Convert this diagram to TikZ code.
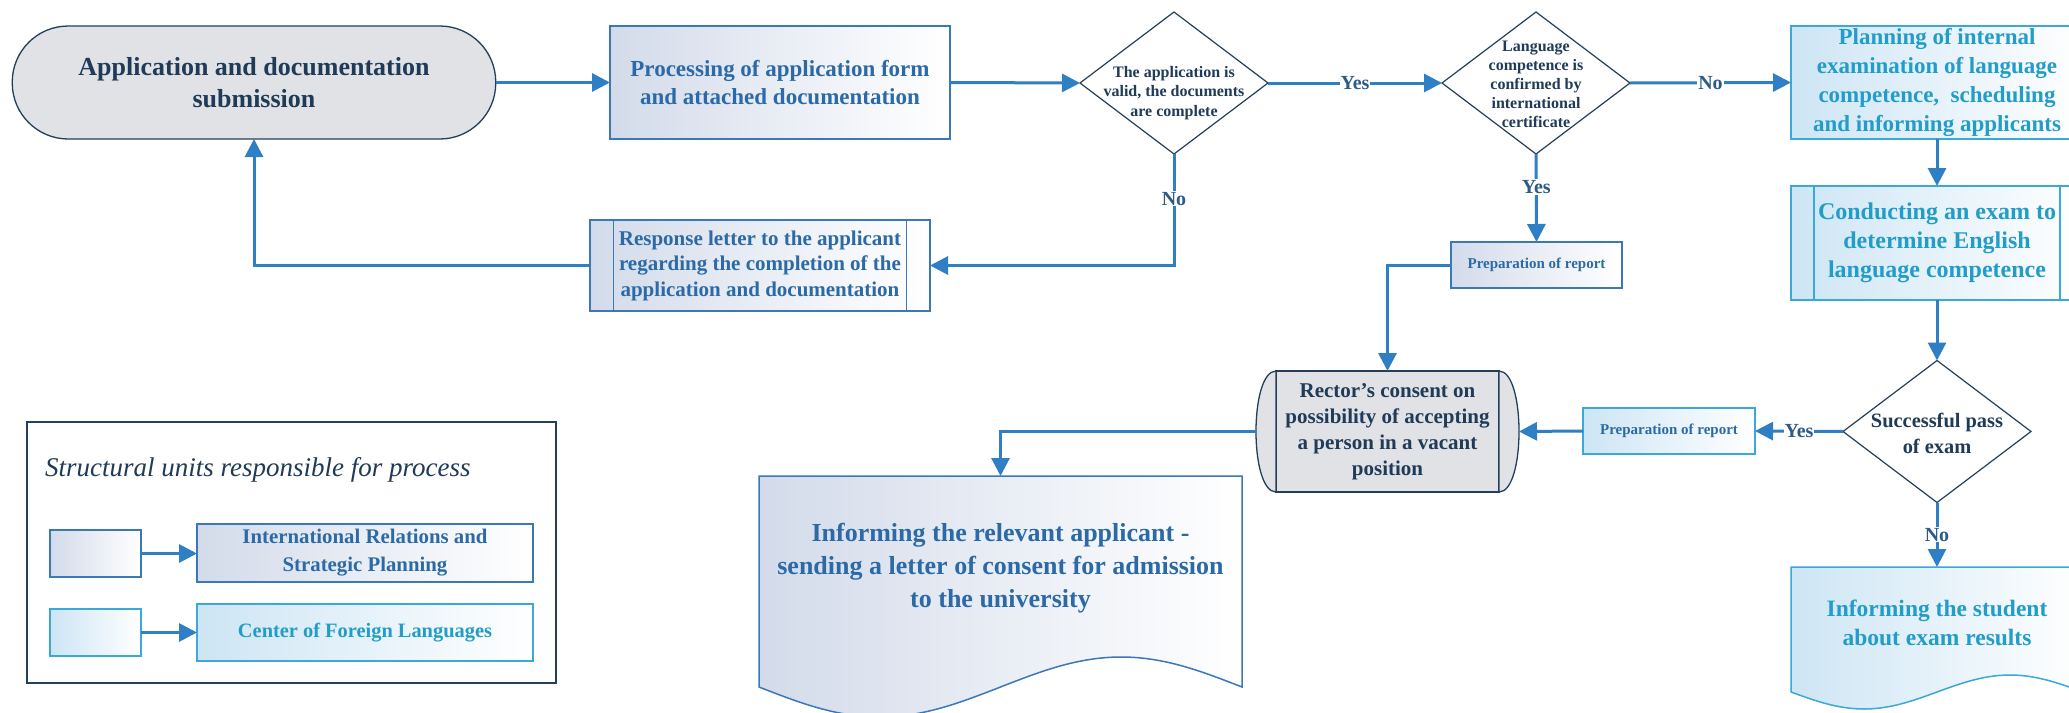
\documentclass[tikz,border=0pt]{standalone}
\usepackage{fontspec}
\setmainfont{Liberation Serif}
\usetikzlibrary{arrows.meta,shapes.geometric,calc}
\definecolor{navy}{HTML}{1F3B57}
\definecolor{navyline}{HTML}{243F5C}
\definecolor{connc}{HTML}{2E7FC4}
\definecolor{irline}{HTML}{3A78B8}
\definecolor{irtext}{HTML}{2B6AA6}
\definecolor{irfill}{HTML}{D3DBEA}
\definecolor{cfline}{HTML}{3AA8D8}
\definecolor{cftext}{HTML}{229DC9}
\definecolor{cffill}{HTML}{CDE5F4}
\definecolor{grayfill}{HTML}{E0E2E6}
\definecolor{lblc}{HTML}{2C5B88}
\tikzset{
  base/.style={outer sep=0pt, inner sep=0pt, align=center},
  irbox/.style={base, draw=irline, line width=1.5pt, left color=irfill, right color=white, text=irtext},
  cfbox/.style={base, draw=cfline, line width=1.5pt, left color=cffill, right color=white, text=cftext},
  graybox/.style={base, draw=navyline, line width=1.3pt, fill=grayfill, text=navy},
  dia/.style={shape=diamond, draw=navyline, line width=1.2pt, fill=white, inner sep=0pt, outer sep=0pt, minimum width=188pt, minimum height=142pt},
  txt/.style={base},
  irdoc/.style={draw=irline, line width=1.5pt, left color=irfill, right color=white},
  cfdoc/.style={draw=cfline, line width=1.5pt, left color=cffill, right color=white},
  conn/.style={draw=connc, line width=3pt, -{Triangle[length=18pt,width=18pt]}},
  lab/.style={fill=white, inner sep=1pt, text=lblc, font=\bfseries\fontsize{20}{22}\selectfont},
}
\begin{document}
\begin{tikzpicture}[x=1pt,y=-1pt]
\useasboundingbox (0,0) rectangle (2069,712);
\clip (0,0) rectangle (2069,712);
\fill[white] (0,0) rectangle (2069,712);

% top row
\node[graybox, rounded corners=56pt, minimum width=483.5pt, minimum height=113pt,
  font=\bfseries\fontsize{26}{32}\selectfont] (term) at (254,82.5)
  {Application and documentation\\submission};
\node[irbox, minimum width=340pt, minimum height=113pt,
  font=\bfseries\fontsize{23}{28}\selectfont] (proc) at (780,82.5)
  {Processing of application form\\and attached documentation};
\node[dia] (d1) at (1174,83) {};
\node[txt, text=navy, font=\bfseries\fontsize{16}{19.5}\selectfont] (d1t) at (1174,93)
  {The application is\\valid, the documents\\are complete};
\node[dia] (d2) at (1536,83) {};
\node[txt, text=navy, font=\bfseries\fontsize{16}{19}\selectfont] (d2t) at (1536,84)
  {Language\\competence is\\confirmed by\\international\\certificate};
\node[cfbox, minimum width=292pt, minimum height=113pt,
  font=\bfseries\fontsize{23}{29}\selectfont] (plan) at (1937,82.5)
  {Planning of internal\\examination of language\\competence,\ \ scheduling\\and informing applicants};

% second row
\node[irbox, minimum width=340pt, minimum height=91pt,
  font=\bfseries\fontsize{21}{25.5}\selectfont] (resp) at (760,265.5)
  {Response letter to the applicant\\regarding the completion of the\\application and documentation};
\draw[irline, line width=1.5pt] ([xshift=23.5pt]resp.north west) -- ([xshift=23.5pt]resp.south west);
\draw[irline, line width=1.5pt] ([xshift=-23.5pt]resp.north east) -- ([xshift=-23.5pt]resp.south east);

\node[irbox, minimum width=171pt, minimum height=46pt,
  font=\bfseries\fontsize{15}{18}\selectfont] (prep1) at (1536.5,265)
  {Preparation of report};

\node[cfbox, minimum width=292pt, minimum height=114pt,
  font=\bfseries\fontsize{24}{29}\selectfont] (cond) at (1937,243)
  {Conducting an exam to\\determine English\\language competence};
\draw[cfline, line width=1.5pt] ([xshift=23pt]cond.north west) -- ([xshift=23pt]cond.south west);
\draw[cfline, line width=1.5pt] ([xshift=-23pt]cond.north east) -- ([xshift=-23pt]cond.south east);

% third row
\node[graybox, minimum width=223pt, minimum height=121pt,
  font=\bfseries\fontsize{21}{26}\selectfont] (rector) at (1387.5,431.5)
  {Rector's consent on\\possibility of accepting\\a person in a vacant\\position};
\draw[navyline, line width=1.3pt, fill=grayfill] (rector.north west) .. controls +(-26.7,0) and +(-26.7,0) .. (rector.south west) -- cycle;
\draw[navyline, line width=1.3pt, fill=grayfill] (rector.north east) .. controls +(26.7,0) and +(26.7,0) .. (rector.south east) -- cycle;
\coordinate (rectorL) at ($(rector.west)+(-20,0)$);
\coordinate (rectorR) at ($(rector.east)+(20,0)$);

\node[cfbox, text=irtext, minimum width=172pt, minimum height=46pt,
  font=\bfseries\fontsize{15}{18}\selectfont] (prep2) at (1669,431)
  {Preparation of report};

\node[dia] (d3) at (1937,431.5) {};
\node[txt, text=navy, font=\bfseries\fontsize{20.4}{26}\selectfont] (d3t) at (1937,433)
  {Successful pass\\of exam};

% documents
\node[base, minimum width=483pt, minimum height=211pt] (doc1) at (1000.5,581.5) {};
\path[irdoc] (doc1.south west) sin ++(120.75,30) cos ++(120.75,-30) sin ++(120.75,-30) cos ++(120.75,30)
  -- (doc1.north east) -- (doc1.north west) -- cycle;
\node[txt, text=irtext, font=\bfseries\fontsize{26}{33}\selectfont] (doc1t) at (1000.5,568)
  {Informing the relevant applicant -\\sending a letter of consent for admission\\to the university};

\node[base, minimum width=292pt, minimum height=125pt] (doc2) at (1937,629.5) {};
\path[cfdoc] (doc2.south west) sin ++(73,17) cos ++(73,-17) sin ++(73,-17) cos ++(73,17)
  -- (doc2.north east) -- (doc2.north west) -- cycle;
\node[txt, text=cftext, font=\bfseries\fontsize{23.5}{29}\selectfont] (doc2t) at (1937,622.5)
  {Informing the student\\about exam results};

% legend
\node[base, draw=navyline, line width=1.3pt, fill=white, minimum width=529pt, minimum height=261pt] (legend) at (291.5,552.5) {};
\node[anchor=west, inner sep=0pt, text=navy, font=\itshape\fontsize{27}{30}\selectfont] (legtitle) at (45,470)
  {Structural units responsible for process};
\node[irbox, minimum width=91pt, minimum height=47pt] (k1) at (95.5,553.5) {};
\node[irbox, minimum width=336pt, minimum height=58pt,
  font=\bfseries\fontsize{20.8}{28}\selectfont] (u1) at (365,553)
  {International Relations and\\Strategic Planning};
\node[cfbox, minimum width=91pt, minimum height=47pt] (k2) at (95.5,632.5) {};
\node[cfbox, minimum width=336pt, minimum height=57pt,
  font=\bfseries\fontsize{20.4}{26}\selectfont] (u2) at (365,632.5)
  {Center of Foreign Languages};
\draw[conn] (k1.east) -- (k1.east -| u1.west);
\draw[conn] (k2.east) -- (k2.east -| u2.west);

% connectors
\draw[conn] (term.east) -- (proc.west);
\draw[conn] (proc.east) -- (d1.west);
\draw[conn] (d1.east) -- node[lab] (l1) {Yes} (d2.west);
\draw[conn] (d2.east) -- node[lab] (l2) {No} (plan.west);
\draw[conn] (d2.south) -- node[lab, pos=0.375] (l3) {Yes} (prep1.north);
\draw[conn] (plan.south) -- (cond.north);
\draw[conn] (cond.south) -- (d3.north);
\draw[conn] (d3.west) -- node[lab] (l4) {Yes} (prep2.east);
\draw[conn] (d3.south) -- node[lab] (l5) {No} (doc2.north);
\draw[conn] (prep2.west) -- (rectorR);
\draw[conn] (prep1.west) -| (rector.north);
\draw[conn] (rectorL) -| (doc1.north);
\draw[conn] (d1.south) |- node[lab, pos=0.2] (l6) {No} (resp.east);
\draw[conn] (resp.west) -| (term.south);
\end{tikzpicture}
\end{document}
